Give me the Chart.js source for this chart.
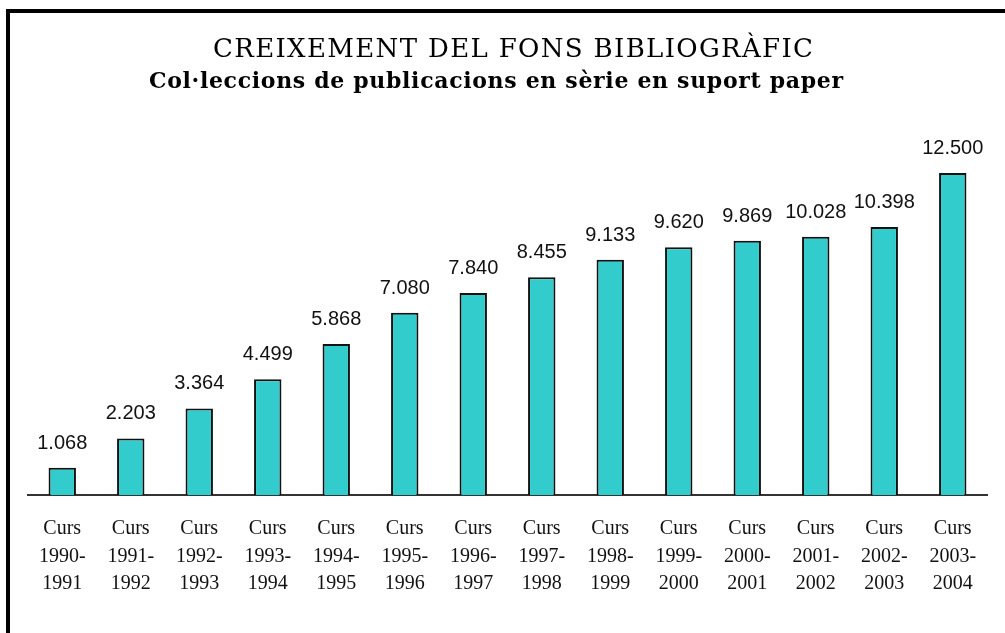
<!DOCTYPE html>
<html>
<head>
<meta charset="utf-8">
<script src="https://cdn.jsdelivr.net/npm/chart.js@4/dist/chart.umd.min.js"></script>
<style>
  html, body { margin: 0; padding: 0; background: #fff; overflow: hidden; }
  #wrap { position: relative; width: 1005px; height: 633px; }
  #frame {
    position: absolute; left: 6px; top: 9px; width: 1100px; height: 700px;
    border: 4px solid #000; box-sizing: border-box;
  }
  canvas { position: absolute; left: 0; top: 0; }
</style>
</head>
<body>
<div id="wrap">
  <div id="frame"></div>
  <canvas id="chart" width="1005" height="633"></canvas>
</div>
<script>
// Titols del grafic
const titleText = "CREIXEMENT DEL FONS BIBLIOGRÀFIC";
const subtitleText = "Col·leccions de publicacions en sèrie en suport paper";

// Cursos (cada etiqueta en tres linies)
const courses = [
  ["Curs", "1990-", "1991"], ["Curs", "1991-", "1992"], ["Curs", "1992-", "1993"],
  ["Curs", "1993-", "1994"], ["Curs", "1994-", "1995"], ["Curs", "1995-", "1996"],
  ["Curs", "1996-", "1997"], ["Curs", "1997-", "1998"], ["Curs", "1998-", "1999"],
  ["Curs", "1999-", "2000"], ["Curs", "2000-", "2001"], ["Curs", "2001-", "2002"],
  ["Curs", "2002-", "2003"], ["Curs", "2003-", "2004"]
];

// Nombre de col·leccions per curs
const collections = [1068, 2203, 3364, 4499, 5868, 7080, 7840, 8455, 9133, 9620, 9869, 10028, 10398, 12500];

// format amb punt de milers, com al original
function fmt(v) {
  return String(v).replace(/\B(?=(\d{3})+(?!\d))/g, ".");
}

// escriu un text estirat a una amplada donada
function fitText(ctx, text, cx, y, width) {
  ctx.letterSpacing = "0px";
  const w = ctx.measureText(text).width;
  const gap = (width - w) / (text.length - 1);
  ctx.letterSpacing = gap + "px";
  ctx.textAlign = "left";
  ctx.fillText(text, cx - width / 2, y);
  ctx.letterSpacing = "0px";
}

const titlesPlugin = {
  id: "titles",
  afterDraw(chart) {
    const ctx = chart.ctx;
    ctx.save();
    ctx.fillStyle = "#000";
    ctx.textBaseline = "alphabetic";
    ctx.font = "26px 'DejaVu Serif', serif";
    fitText(ctx, titleText, 513, 57, 600);
    ctx.font = "bold 22px 'DejaVu Serif', serif";
    fitText(ctx, subtitleText, 496, 88, 694);
    ctx.restore();
  }
};

const valueLabels = {
  id: "valueLabels",
  afterDatasetsDraw(chart) {
    const ctx = chart.ctx;
    const meta = chart.getDatasetMeta(0);
    ctx.save();
    ctx.fillStyle = "#111";
    ctx.font = "20px 'Liberation Sans', sans-serif";
    ctx.textAlign = "center";
    ctx.textBaseline = "alphabetic";
    meta.data.forEach((bar, i) => {
      ctx.fillText(fmt(collections[i]), bar.x, bar.y - 19);
    });
    ctx.restore();
  }
};

new Chart(document.getElementById("chart"), {
  type: "bar",
  data: {
    labels: courses,
    datasets: [{
      data: collections,
      backgroundColor: "#33CCCC",
      borderColor: "#111",
      borderWidth: 2,
      barPercentage: 0.4,
      categoryPercentage: 1.0
    }]
  },
  options: {
    responsive: false,
    animation: false,
    layout: { padding: { left: 28, right: 18, top: 160, bottom: 15 } },
    plugins: {
      legend: { display: false },
      tooltip: { enabled: false },
      title: { display: false }
    },
    scales: {
      x: {
        z: 1,
        grid: { display: false, drawTicks: false },
        border: { display: true, color: "#333", width: 2 },
        ticks: {
          color: "#111",
          padding: 20,
          maxRotation: 0,
          autoSkip: false,
          font: { family: "'Liberation Serif', serif", size: 20, lineHeight: 1.38 }
        }
      },
      y: {
        display: false,
        min: 0,
        max: 13000
      }
    }
  },
  plugins: [valueLabels, titlesPlugin]
});
</script>
</body>
</html>
